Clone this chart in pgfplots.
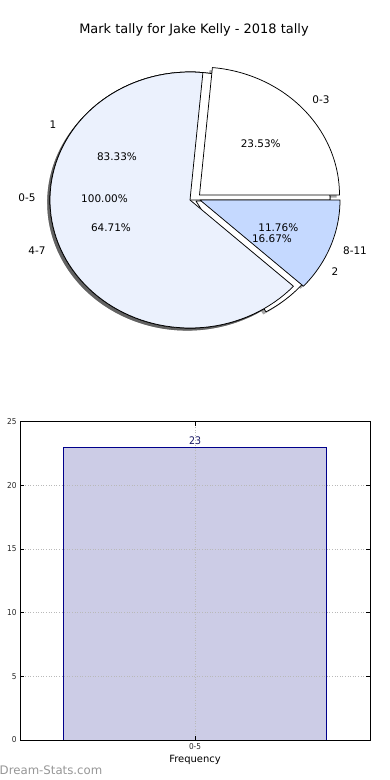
\documentclass[border=0pt]{standalone}
\usepackage{pgfplots}
\pgfplotsset{compat=1.18}
\usepackage{fontspec}
\setmainfont{DejaVu Sans}
\newfontfamily\condfont{DejaVu Sans Condensed}
\definecolor{lightblue}{RGB}{235,241,253}
\definecolor{midblue}{RGB}{197,217,255}
\definecolor{barfill}{RGB}{204,204,230}
\definecolor{baredge}{RGB}{0,0,139}
\definecolor{labnavy}{RGB}{25,25,100}
\definecolor{gridgray}{RGB}{185,185,185}
\definecolor{wmgray}{RGB}{150,150,150}
% pie wedge: centre x, centre y (pixels), start angle, end angle, fill
\newcommand{\pieslice}[5]{%
 \addplot[draw=black, line width=0.75bp, line join=round, fill=#5, domain=#3:#4, samples=90]
   ({#1+140*cos(x)},{#2-128*sin(x)}) -- (axis cs:#1,#2) -- cycle;}
\newcommand{\pieshadow}[4]{%
 \addplot[draw=none, fill=black!70, fill opacity=0.5, domain=#3:#4, samples=90]
   ({#1-2.8+140*cos(x)},{#2+2.6-128*sin(x)}) -- (axis cs:#1-2.8,#2+2.6) -- cycle;}
\begin{document}
\begin{tikzpicture}
\useasboundingbox (0,0) rectangle (390bp,780bp);
% ---------- pie (pixel coordinates) ----------
\begin{axis}[at={(0,0)}, anchor=south west, scale only axis,
  width=390bp, height=780bp, xmin=0, xmax=390, ymin=0, ymax=780,
  y dir=reverse, hide axis, clip=false]
% shadows
\addplot[draw=none, fill=black!70, fill opacity=0.5, domain=0:360, samples=120]
   ({190-2.8+140*cos(x)},{200+2.6-128*sin(x)}) -- cycle;
\pieshadow{190}{200}{0}{300}
\pieshadow{196}{201}{300}{360}
\pieshadow{199.5}{195}{0}{84.71}
\pieshadow{190}{200}{84.71}{317.66}
\pieshadow{200}{200}{317.66}{360}
% pie 0-5 : 100 %
\addplot[draw=black, line width=0.75bp, fill=white, domain=0:360, samples=120]
   ({190+140*cos(x)},{200-128*sin(x)}) -- cycle;
% pie 1 / 2 : 83.33 % / 16.67 %
\pieslice{190}{200}{0}{300}{white}
\pieslice{196}{201}{300}{360}{white}
% pie 0-3 / 4-7 / 8-11 : 23.53 % / 64.71 % / 11.76 %
\pieslice{199.5}{195}{0}{84.71}{white}
\pieslice{190}{200}{84.71}{317.66}{lightblue}
\pieslice{200}{200}{317.66}{360}{midblue}
% texts
\node[font=\fontsize{13}{15}\selectfont] at (axis cs:194,30) {Mark tally for Jake Kelly - 2018 tally};
\begin{scope}[every node/.style={font=\fontsize{10.5}{12}\selectfont}]
\node at (axis cs:321,100) {0-3};
\node at (axis cs:53,125) {1};
\node at (axis cs:27,198) {0-5};
\node at (axis cs:37,251) {4-7};
\node at (axis cs:355,251) {8-11};
\node at (axis cs:335,272) {2};
\node at (axis cs:260.7,143.3) {23.53\%};
\node at (axis cs:117,157) {83.33\%};
\node at (axis cs:104.5,198.5) {100.00\%};
\node at (axis cs:111,228) {64.71\%};
\node at (axis cs:278.3,227.7) {11.76\%};
\node at (axis cs:272,239) {16.67\%};
\end{scope}
\node[anchor=west, text=wmgray, font=\fontsize{11.8}{13}\selectfont, inner sep=0pt] at (axis cs:-0.5,770) {Dream-Stats.com};
\end{axis}
% ---------- bar chart ----------
\begin{axis}[at={(20bp,40bp)}, anchor=south west, scale only axis,
  width=350bp, height=318.3bp,
  xmin=-0.531, xmax=0.531, ymin=0, ymax=25,
  ybar, bar width=0.8,
  xtick={0}, xticklabels={0-5},
  ytick={0,5,10,15,20,25},
  axis on top,
  xmajorgrids, ymajorgrids,
  major grid style={gridgray, line width=0.7bp, dash pattern=on 1bp off 1.6bp},
  axis line style={black, line width=0.8bp},
  tick align=inside, major tick length=4bp,
  tick style={black, line width=0.6bp},
  /pgf/number format/assume math mode=true,
  ticklabel style={font=\condfont\fontsize{8.2}{9}\selectfont, text=black!85},
  xlabel={Frequency},
  xlabel style={font=\fontsize{10}{12}\selectfont, yshift=1bp},
]
\addplot[fill=barfill, draw=baredge, line width=0.8bp,
  nodes near coords,
  nodes near coords style={font=\condfont\fontsize{10.5}{11}\selectfont, text=labnavy, yshift=-1bp}]
  coordinates {(0,23)};
\end{axis}
\end{tikzpicture}
\end{document}
